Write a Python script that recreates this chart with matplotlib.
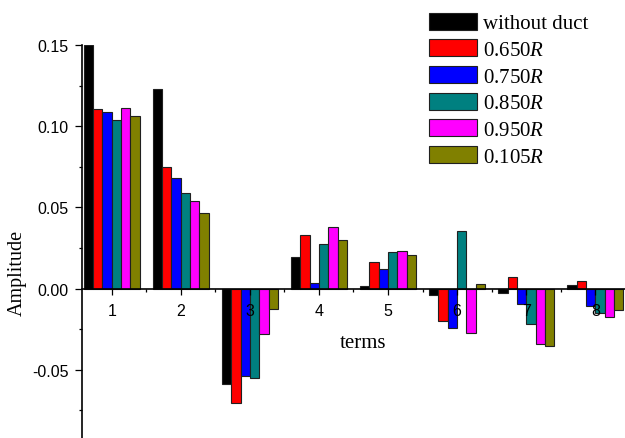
import numpy as np
import matplotlib
matplotlib.use('Agg')
import matplotlib.pyplot as plt
from matplotlib.ticker import MultipleLocator, FixedLocator, FormatStrFormatter

# == Data ===================================================
terms = [1, 2, 3, 4, 5, 6, 7, 8]
labels = ['without duct', '0.650$R$', '0.750$R$', '0.850$R$', '0.950$R$', '0.105$R$']
without_duct = [0.150, 0.1228, -0.0589, 0.0197, 0.0014, -0.0039, -0.0027, 0.0022]
r0650 = [0.1103, 0.0746, -0.0705, 0.0330, 0.0166, -0.0199, 0.0071, 0.0047]
r0750 = [0.1089, 0.0683, -0.0541, 0.0037, 0.0119, -0.0240, -0.0092, -0.0109]
r0850 = [0.1037, 0.0586, -0.0548, 0.0277, 0.0225, 0.0357, -0.0221, -0.0152]
r0950 = [0.1109, 0.0541, -0.0277, 0.0377, 0.0229, -0.0271, -0.0340, -0.0172]
r0105 = [0.1060, 0.0467, -0.0127, 0.0301, 0.0209, 0.0031, -0.0353, -0.0133]
series = [without_duct, r0650, r0750, r0850, r0950, r0105]
colors = ['#000000', '#ff0000', '#0000ff', '#008080', '#ff00ff', '#808000']
# ===========================================================

plt.rcParams['font.family'] = ['Liberation Sans', 'DejaVu Sans']
plt.rcParams['axes.unicode_minus'] = False
plt.rcParams['mathtext.fontset'] = 'custom'
plt.rcParams['mathtext.rm'] = 'Liberation Serif'
plt.rcParams['mathtext.it'] = 'Liberation Serif:italic'

fig = plt.figure(figsize=(6.25, 4.39), dpi=100)
ax = fig.add_axes([82/625, 0.0, 1 - 82/625, 1 - 46/439])

# grouped bars
x = np.array(terms, dtype=float)
w = 0.135
for i, (vals, c, lab) in enumerate(zip(series, colors, labels)):
    ax.bar(x + (i - 2.5) * w, vals, width=w, color=c, edgecolor='#202020',
           linewidth=0.8, label=lab)

ax.set_xlim(0.57, 8.43)
ax.set_ylim(-0.092, 0.15)

# spines: left + x axis through zero
ax.spines['top'].set_visible(False)
ax.spines['right'].set_visible(False)
ax.spines['bottom'].set_position(('data', 0))
for s in ['left', 'bottom']:
    ax.spines[s].set_linewidth(1.2)

ax.set_xticks(terms)
ax.xaxis.set_minor_locator(FixedLocator(np.arange(1.5, 8.0, 1.0)))
ax.yaxis.set_major_locator(MultipleLocator(0.05))
ax.yaxis.set_minor_locator(MultipleLocator(0.025))
ax.yaxis.set_major_formatter(FormatStrFormatter('%.2f'))

ax.tick_params(axis='x', which='major', direction='out', length=4.3, width=0.9,
               pad=6.0, labelsize=11.5)
ax.tick_params(axis='x', which='minor', direction='out', length=2.4, width=0.9)
ax.tick_params(axis='y', which='major', direction='out', length=5, width=0.9,
               pad=4.5, labelsize=11.5)
ax.tick_params(axis='y', which='minor', direction='out', length=2.5, width=0.9)

# axis labels
ax.set_ylabel('Amplitude', family='Liberation Serif', fontsize=14.5,
              va='center', ha='center')
ax.yaxis.set_label_coords(-0.119, 0.4224)
ax.set_xlabel('terms', family='Liberation Serif', fontsize=15, va='baseline')
ax.xaxis.set_label_coords(0.5175, 0.2316)

leg = ax.legend(loc='upper left', bbox_to_anchor=(429/625, 1 - 13.5/439),
                bbox_transform=fig.transFigure, frameon=False,
                prop={'family': 'Liberation Serif', 'size': 15},
                handlelength=2.3, handleheight=0.9, handletextpad=0.3,
                labelspacing=0.28, borderpad=0, borderaxespad=0)

fig.savefig('out.png', dpi=100)
